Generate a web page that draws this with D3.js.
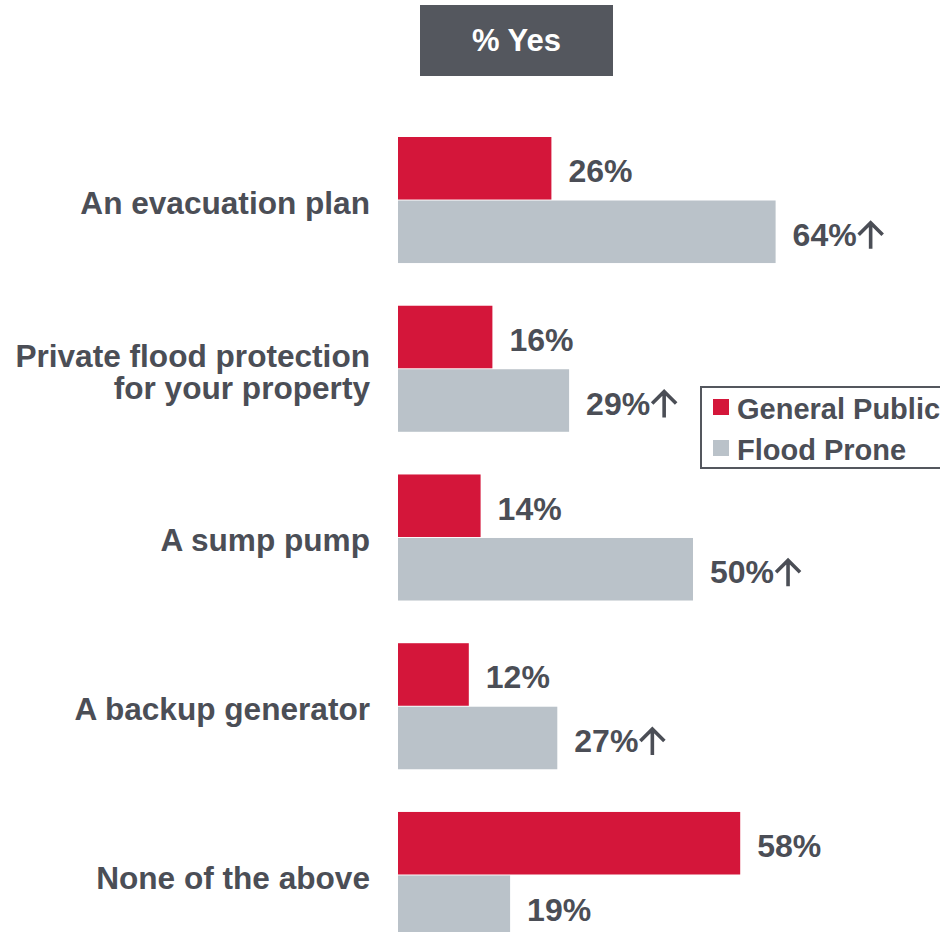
<!DOCTYPE html>
<meta charset="utf-8">
<script src="https://cdn.jsdelivr.net/npm/d3@7"></script>
<style>
 body { margin: 0; background: #fff; }
 text { font-family: "Liberation Sans", Arial, sans-serif; font-weight: bold; }
</style>
<div id="container"></div>
<script>
 // data
 var categories = [
     ["An evacuation plan"],
     ["Private flood protection", "for your property"],
     ["A sump pump"],
     ["A backup generator"],
     ["None of the above"]
 ];
 var series = ["General Public", "Flood Prone"];
 var generalPublic = [26, 16, 14, 12, 58];
 var floodProne = [64, 29, 50, 27, 19];
 var higher = [true, true, true, true, false]; // arrow on flood prone
 var title = "% Yes";

 var width = 940, height = 932;
 var red = "#d4163a", grey = "#bac2c9", textColor = "#4b4e56";

 var rows = categories.map((c, i) => ({
     key: c.join(" "), lines: c,
     values: [
         {series: series[0], value: generalPublic[i], up: false},
         {series: series[1], value: floodProne[i], up: higher[i]}
     ]
 }));

 var svg = d3.select("#container").append("svg")
             .attr("width", width).attr("height", height);

 var x = d3.scaleLinear().domain([0, 100]).range([398, 988]);
 var y = d3.scaleBand().domain(rows.map(d => d.key))
           .range([137, 938]).paddingInner(0.253).paddingOuter(0);
 var y1 = d3.scaleBand().domain(series).range([0, y.bandwidth()]).paddingInner(0.015);
 var color = d3.scaleOrdinal().domain(series).range([red, grey]);

 // header box
 svg.append("rect")
    .attr("x", 420).attr("y", 5).attr("width", 193).attr("height", 71)
    .attr("fill", "#54575e");
 svg.append("text")
    .attr("x", 516.5).attr("y", 51)
    .attr("text-anchor", "middle")
    .attr("font-size", 31)
    .attr("fill", "#fff")
    .text(title);

 var groups = svg.selectAll("g.row")
                 .data(rows)
                 .enter().append("g")
                 .attr("class", "row")
                 .attr("transform", d => `translate(0,${y(d.key)})`);

 // category labels, one text per line
 groups.selectAll("text.cat")
       .data(d => d.lines.map((l, i) => ({l: l, i: i, n: d.lines.length})))
       .enter().append("text")
       .attr("class", "cat")
       .attr("text-anchor", "end")
       .attr("font-size", 31.6)
       .attr("fill", textColor)
       .attr("x", 370)
       .attr("y", d => y.bandwidth() / 2 + 14 + (d.i - (d.n - 1) / 2) * 32)
       .text(d => d.l);

 var bars = groups.selectAll("g.bar")
                  .data(d => d.values)
                  .enter().append("g")
                  .attr("class", "bar");

 bars.append("rect")
     .attr("x", x(0))
     .attr("y", d => y1(d.series))
     .attr("width", d => x(d.value) - x(0))
     .attr("height", y1.bandwidth())
     .attr("fill", d => color(d.series));

 bars.append("text")
     .attr("class", "val")
     .attr("x", d => x(d.value) + 17)
     .attr("y", d => y1(d.series) + y1.bandwidth() / 2 + 14)
     .attr("font-size", 32)
     .attr("fill", textColor)
     .text(d => d.value + "%");

 // up arrow after significant values
 bars.filter(d => d.up).each(function(d) {
     var g = d3.select(this);
     var t = g.select("text.val");
     var left = +t.attr("x") + t.node().getComputedTextLength() + 1;
     var base = +t.attr("y");
     var w = 26, top = base - 24, bottom = base + 3, cx = left + w / 2;
     g.append("path")
      .attr("d", `M${cx},${bottom}V${top + 1}M${left + 1},${top + 13}L${cx},${top + 1}L${left + w - 1},${top + 13}`)
      .attr("fill", "none")
      .attr("stroke", textColor)
      .attr("stroke-width", 3.6);
 });

 // legend
 var legend = svg.append("g").attr("transform", "translate(701,387)");
 legend.append("rect")
       .attr("width", 250).attr("height", 81)
       .attr("fill", "#fff").attr("stroke", "#54575e").attr("stroke-width", 2);
 var items = legend.selectAll("g.item")
                   .data(series)
                   .enter().append("g")
                   .attr("transform", (d, i) => `translate(12,${12 + i * 41})`);
 items.append("rect")
      .attr("width", 16).attr("height", 16)
      .attr("fill", d => color(d));
 items.append("text")
      .attr("x", 24).attr("y", 20)
      .attr("font-size", 29)
      .attr("fill", textColor)
      .text(d => d);
</script>
